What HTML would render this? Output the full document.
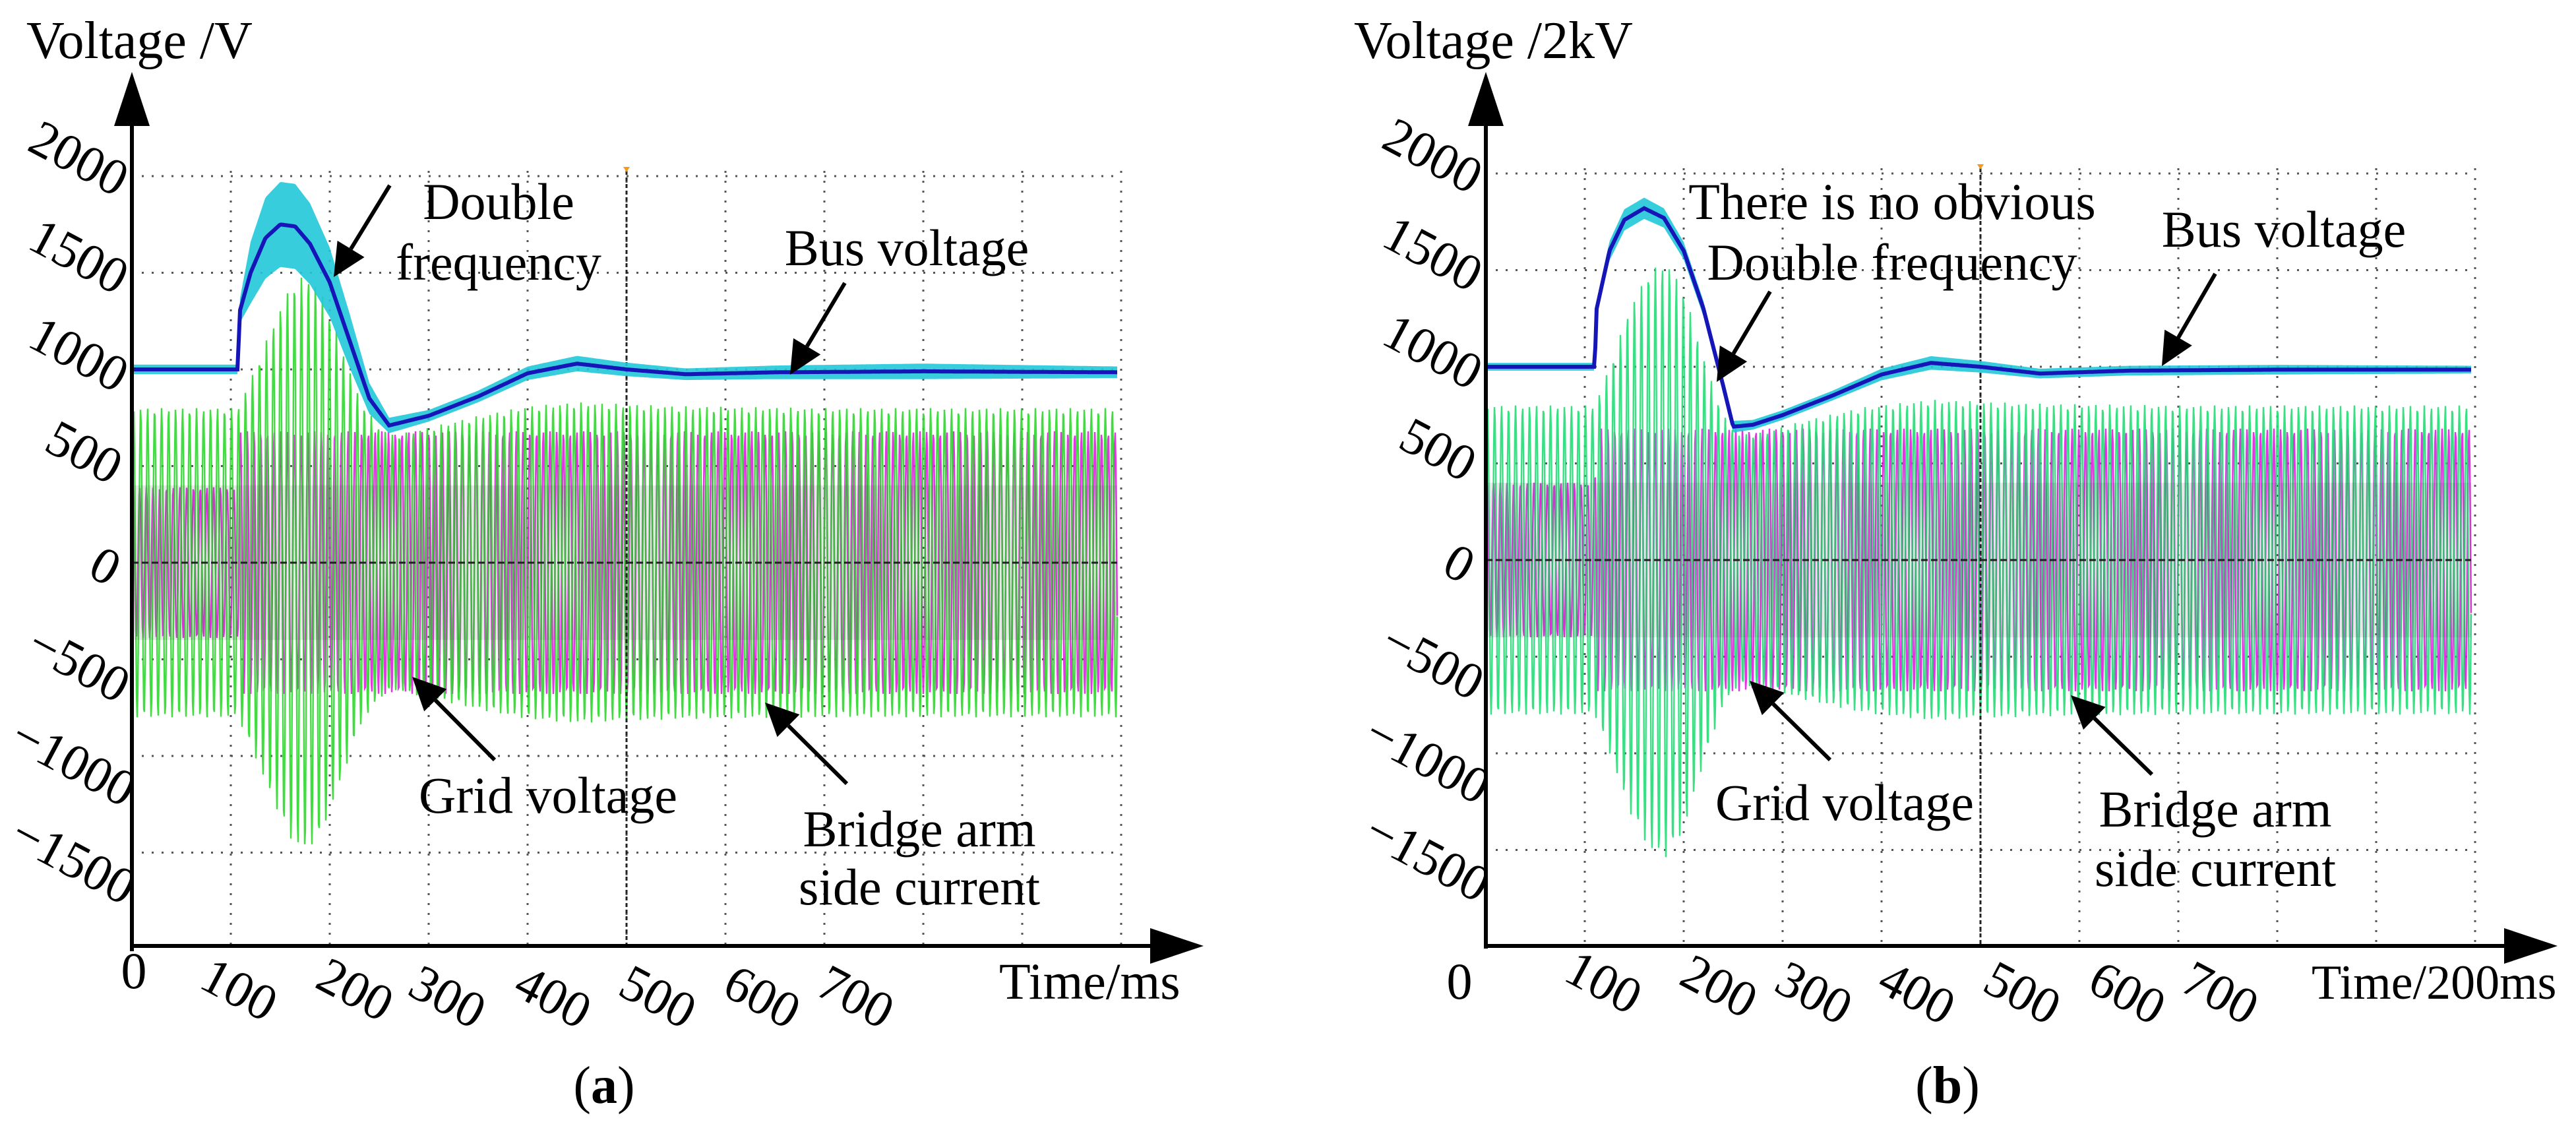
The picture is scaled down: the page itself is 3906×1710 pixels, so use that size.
<!DOCTYPE html>
<html><head><meta charset="utf-8"><style>
html,body{margin:0;padding:0;background:#fff;}
svg{display:block;}
svg text{font-family:"Liberation Serif","Times New Roman",serif;}
</style></head><body>
<svg id="chart" width="3906" height="1710" viewBox="0 0 3906 1710" xmlns="http://www.w3.org/2000/svg" font-family="Liberation Serif, serif">
<g id="panelA"></g>
<g id="panelB"></g>
</svg>
<script>
// ---- Data (time units 0..1000, volts) ----
const xTickLabels = ["0","100","200","300","400","500","600","700"];
const yTickValues = [2000,1500,1000,500,0,-500,-1000,-1500];
const yTickLabels = ["2000","1500","1000","500","0","-500","-1000","-1500"];

// Panel A
const busTimesA = [0,107,109,120,135,150,165,180,200,220,240,260,300,350,400,450,500,560,650,800,1000];
const busValsA  = [1000,1000,1300,1500,1680,1750,1740,1650,1450,1150,850,710,760,860,980,1030,1000,975,985,990,985];
const busBandA  = [25,25,60,160,210,220,220,210,180,140,80,40,30,30,35,40,35,30,35,40,30];
const curTimesA = [0,107,120,140,160,175,190,210,230,250,265,300,350,400,450,550,700,1000];
const curAmpA   = [800,800,950,1200,1430,1490,1420,1150,850,700,660,700,760,810,830,810,800,800];
const gridTimesA = [0,107,108,1000];
const gridAmpA   = [390,390,680,680];

// Panel B
const busTimesB = [0,110,112,125,140,160,180,200,220,240,250,270,300,350,400,450,500,560,650,800,1000];
const busValsB  = [1000,1000,1300,1600,1760,1820,1770,1600,1300,900,690,700,750,850,960,1020,1000,965,980,985,985];
const busBandB  = [20,20,40,50,55,55,50,45,40,35,30,25,25,25,30,35,30,25,25,25,20];
const curTimesB = [0,110,125,145,165,183,200,220,240,255,280,320,380,450,550,700,1000];
const curAmpB   = [800,800,1000,1300,1500,1540,1400,1050,750,650,660,720,790,830,810,800,800];
const gridTimesB = [0,110,111,1000];
const gridAmpB   = [400,400,680,680];

const NS = "http://www.w3.org/2000/svg";
const FONT = '"Liberation Serif", "Times New Roman", serif';
function mk(parent, tag, attrs){
  const e = document.createElementNS(NS, tag);
  for (const k in attrs) e.setAttribute(k, attrs[k]);
  parent.appendChild(e);
  return e;
}
function interp(ts, vs, t){
  if (t <= ts[0]) return vs[0];
  for (let i=1;i<ts.length;i++){
    if (t <= ts[i]){ const f=(t-ts[i-1])/(ts[i]-ts[i-1]); return vs[i-1]+f*(vs[i]-vs[i-1]); }
  }
  return vs[vs.length-1];
}

function drawPanel(g, cfg){
  const X = t => cfg.x0 + t*1.5;
  const Y = v => cfg.y0 - v*0.293;
  const tEnd = 996;
  for (let i=1;i<=10;i++){
    const x = X(i*100);
    const ln = mk(g,'line',{x1:x,y1:Y(2000)-8,x2:x,y2:Y(-2000),stroke:'#555','stroke-width':3,'stroke-dasharray':'3 12'});
    
    
  }
  [2000,1500,1000,500,-500,-1000,-1500].forEach(v=>{
    const ln = mk(g,'line',{x1:X(0),y1:Y(v),x2:X(1000),y2:Y(v),stroke:'#555','stroke-width':3,'stroke-dasharray':'3 12'});
    
    
  });
  let d='';
  for (let px=0; px<=tEnd*1.5; px+=1){
    const t=px/1.5, a=interp(cfg.gridT,cfg.gridA,t);
    const v=a*Math.sin(px/10.2*2*Math.PI+0.6);
    d += (px?'L':'M')+X(t).toFixed(1)+' '+Y(v).toFixed(1);
  }
  const gp = mk(g,'path',{d:d,fill:'none',stroke:'#e020e0','stroke-width':2.4,opacity:0.9});
  
  
  d='';
  for (let px=0; px<=tEnd*1.5; px+=1){
    const t=px/1.5, a=interp(cfg.curT,cfg.curA,t);
    const v=a*Math.sin(px/10.6*2*Math.PI);
    d += (px?'L':'M')+X(t).toFixed(1)+' '+Y(v).toFixed(1);
  }
  const cp = mk(g,'path',{d:d,fill:'none',stroke:cfg.green,'stroke-width':2.4,opacity:0.9});
  
  
  const ov = mk(g,'rect',{x:X(0),y:Y(400),width:tEnd*1.5,height:800*0.293,fill:'#404040',opacity:0.12});
  
  
  const z = mk(g,'line',{x1:X(0),y1:Y(0),x2:X(tEnd),y2:Y(0),stroke:'#222','stroke-width':3,'stroke-dasharray':'10 5'});
  
  
  const m = mk(g,'line',{x1:X(500),y1:Y(2000)-8,x2:X(500),y2:Y(-2000),stroke:'#222','stroke-width':3,'stroke-dasharray':'6 4'});
  
  
  const mo = mk(g,'path',{d:`M${X(500)-5} ${Y(2000)-14}L${X(500)+5} ${Y(2000)-14}L${X(500)} ${Y(2000)-6}Z`,fill:'#f39a1e'});
  
  
  let up='', dn='';
  const pts=[];
  for (let px=0; px<=tEnd*1.5; px+=2){
    const t=px/1.5;
    pts.push([X(t), interp(cfg.busT,cfg.busV,t), interp(cfg.busT,cfg.busB,t)]);
  }
  pts.forEach((p,i)=>{ up += (i?'L':'M')+p[0].toFixed(1)+' '+Y(p[1]+p[2]).toFixed(1); });
  for (let i=pts.length-1;i>=0;i--){ dn += 'L'+pts[i][0].toFixed(1)+' '+Y(pts[i][1]-pts[i][2]).toFixed(1); }
  const band = mk(g,'path',{d:up+dn+'Z',fill:'#22c8d8',opacity:0.9});
  
  
  d='';
  pts.forEach((p,i)=>{ d += (i?'L':'M')+p[0].toFixed(1)+' '+Y(p[1]).toFixed(1); });
  const bl = mk(g,'path',{d:d,fill:'none',stroke:'#1515b8','stroke-width':6});
  
  
  const ya = mk(g,'line',{x1:X(0),y1:Y(-2000)+3,x2:X(0),y2:188,stroke:'#000','stroke-width':6});
  
  
  const yah = mk(g,'path',{d:`M${X(0)} 109L${X(0)-27} 191L${X(0)+27} 191Z`,fill:'#000'});
  
  
  const xa = mk(g,'line',{x1:X(0)-3,y1:1434,x2:cfg.x0+1548,y2:1434,stroke:'#000','stroke-width':6});
  
  
  const xah = mk(g,'path',{d:`M${cfg.x0+1625} 1434L${cfg.x0+1544} 1407L${cfg.x0+1544} 1461Z`,fill:'#000'});
  
  
  yTickLabels.forEach((lab,i)=>{
    const v=yTickValues[i];
    const cx = (v===0)? cfg.x0-44 : cfg.x0-84 - (lab.length-4)*8;
    const cy = (v===0)? Y(v)+12 : (v>0 ? Y(v)-20+ (2000-v)/500*2 : Y(v)+14 - (v/500+1)*2);
    const t = mk(g,'text',{x:cx,y:cy,'font-size':78,'font-family':FONT,'text-anchor':'middle','dominant-baseline':'middle',transform:`rotate(28 ${cx} ${cy})`});
    t.textContent = lab.replace('-','\u2212');
    
    
  });
  xTickLabels.forEach((lab,i)=>{
    const cx = cfg.xl[i], cy = cfg.xly[i];
    const t = mk(g,'text',{x:cx,y:cy,'font-size':78,'font-family':FONT,'text-anchor':'middle','dominant-baseline':'middle',transform: i?`rotate(28 ${cx} ${cy})`:''});
    t.textContent = lab;
    
    
  });
}

function txt(g,x,y,s,str,name,anchor,bold){
  const t = mk(g,'text',{x:x,y:y,'font-size':s,'font-family':FONT,'text-anchor':anchor||'middle'});
  if (bold) t.setAttribute('font-weight','bold');
  t.textContent = str;
  
  
  return t;
}
function arrow(g,x1,y1,x2,y2,name){
  const ang=Math.atan2(y2-y1,x2-x1), L=50, W=24;
  const bx=x2-L*Math.cos(ang), by=y2-L*Math.sin(ang);
  const ln = mk(g,'line',{x1:x1,y1:y1,x2:bx,y2:by,stroke:'#000','stroke-width':6});
  
  
  const px=-Math.sin(ang)*W, py=Math.cos(ang)*W;
  const h = mk(g,'path',{d:`M${x2} ${y2}L${bx+px} ${by+py}L${bx-px} ${by-py}Z`,fill:'#000'});
  
  
}

const gA = document.getElementById('panelA');
drawPanel(gA,{x0:200,y0:853,green:'#2ed82e',
  busT:busTimesA,busV:busValsA,busB:busBandA,curT:curTimesA,curA:curAmpA,gridT:gridTimesA,gridA:gridAmpA,
  xl:[203,359,535,675,835,994,1152,1294], xly:[1480,1507,1507,1518,1518,1518,1518,1518]});
txt(gA,40,88,80,'Voltage /V','y-axis-title','start');
txt(gA,1515,1514,78,'Time/ms','x-axis-title','start');
const ca = txt(gA,916,1672,80,'(','panel-a-caption');
ca.innerHTML = '(<tspan font-weight="bold">a</tspan>)';
txt(gA,756,332,78,'Double','annotation-double');
txt(gA,756,424,78,'frequency','annotation-frequency');
arrow(gA,591,281,506,420,'double-frequency-arrow');
txt(gA,1375,402,78,'Bus voltage','bus-voltage-label');
arrow(gA,1281,429,1198,568,'bus-voltage-arrow');
txt(gA,831,1232,78,'Grid voltage','grid-voltage-label');
arrow(gA,750,1152,625,1026,'grid-voltage-arrow');
txt(gA,1394,1283,78,'Bridge arm','bridge-arm-label');
txt(gA,1394,1371,78,'side current','side-current-label');
arrow(gA,1284,1188,1160,1065,'bridge-current-arrow');

const gB = document.getElementById('panelB');
drawPanel(gB,{x0:2253,y0:849,green:'#22dd77',
  busT:busTimesB,busV:busValsB,busB:busBandB,curT:curTimesB,curA:curAmpB,gridT:gridTimesB,gridA:gridAmpB,
  xl:[2213,2428,2603,2747,2903,3063,3222,3363], xly:[1496,1496,1502,1512,1512,1512,1512,1512]});
txt(gB,2053,88,80,'Voltage /2kV','y-axis-title','start');
txt(gB,3505,1514,74,'Time/200ms','x-axis-title','start');
const cb = txt(gB,2953,1672,80,'(','panel-b-caption');
cb.innerHTML = '(<tspan font-weight="bold">b</tspan>)';
txt(gB,2869,332,78,'There is no obvious','annotation-no-obvious');
txt(gB,2869,424,78,'Double frequency','annotation-double-frequency');
arrow(gB,2684,442,2603,579,'double-frequency-arrow');
txt(gB,3463,374,78,'Bus voltage','bus-voltage-label');
arrow(gB,3359,415,3278,555,'bus-voltage-arrow');
txt(gB,2797,1243,78,'Grid voltage','grid-voltage-label');
arrow(gB,2775,1152,2653,1032,'grid-voltage-arrow');
txt(gB,3359,1253,78,'Bridge arm','bridge-arm-label');
txt(gB,3359,1343,78,'side current','side-current-label');
arrow(gB,3263,1174,3140,1054,'bridge-current-arrow');
</script>
</body></html>
